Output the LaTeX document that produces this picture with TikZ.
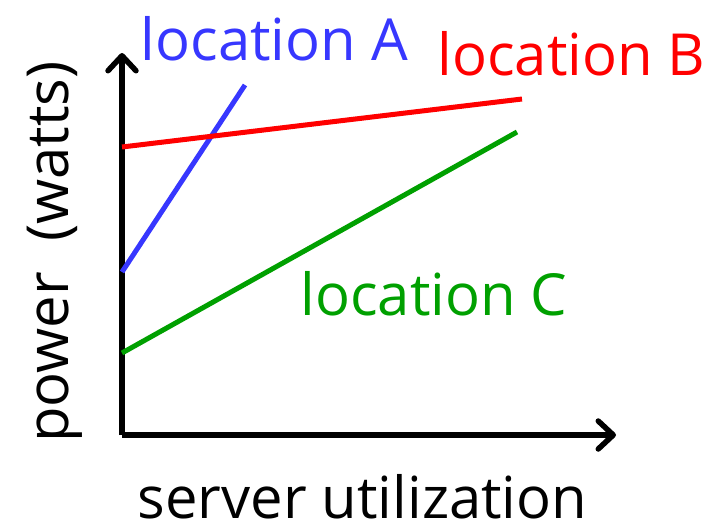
\documentclass[tikz,border=0pt]{standalone}
\usepackage{fontspec}
\setmainfont{Open Sans}
\usetikzlibrary{arrows.meta}
\definecolor{cA}{RGB}{55,55,255}
\definecolor{cB}{RGB}{255,0,0}
\definecolor{cC}{RGB}{0,160,0}
\tikzset{
  axis/.style={line width=5.5pt, -{Straight Barb[round,length=15pt,width=28pt,line width=5.5pt]}},
  curve/.style={line width=5pt},
  lbl/.style={font=\fontsize{58}{58}\selectfont, inner sep=0pt, anchor=base}
}
\begin{document}
\begin{tikzpicture}[x=1pt,y=-1pt]
\useasboundingbox (0,0) rectangle (705,525);
\coordinate (o) at (122,435);
\coordinate (ytop) at (122,53);
\coordinate (xend) at (616,435);
\draw[axis] (o) -- (ytop);
\draw[axis] (o) -- (xend);
\coordinate (a1) at (122,272);
\coordinate (a2) at (245,85);
\coordinate (b1) at (122,147);
\coordinate (b2) at (522,99);
\coordinate (c1) at (122,353);
\coordinate (c2) at (517,132);
\draw[curve, cA] (a1) -- (a2);
\draw[curve, cB] (b1) -- (b2);
\draw[curve, cC] (c1) -- (c2);
\node[lbl, text=cA] (la) at (274.5,60) {location A};
\node[lbl, text=cB] (lb) at (571.5,75) {location B};
\node[lbl, text=cC] (lc) at (434,315) {location C};
\node[lbl, rotate=90] (ly) at (68,252) {power\ \ (watts)};
\node[lbl, text depth=0pt] (lx) at (362.5,518) {server utilization};
\end{tikzpicture}
\end{document}
